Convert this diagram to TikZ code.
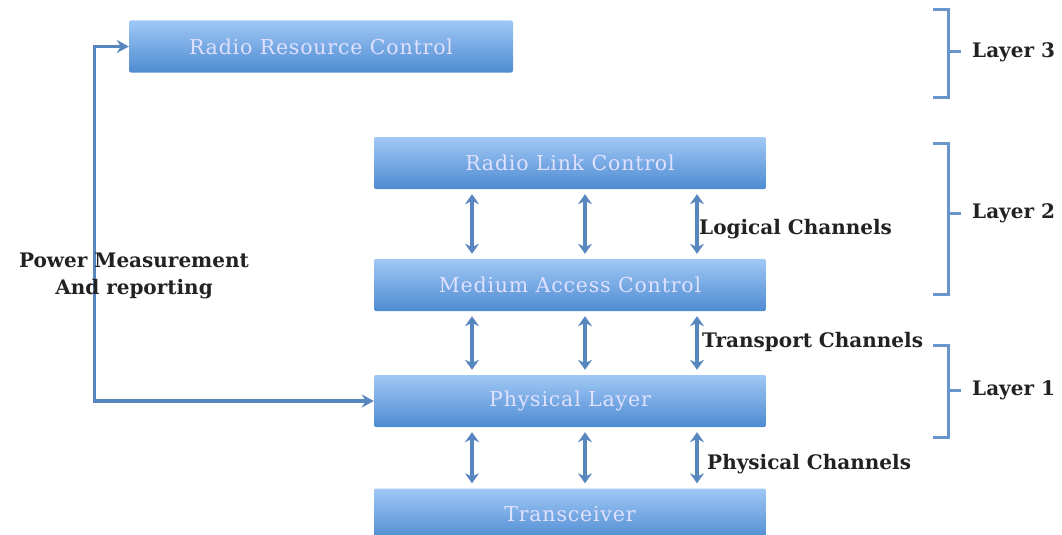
\documentclass[tikz,border=0pt]{standalone}
\usepackage{fontspec}
\setmainfont{DejaVu Serif}
\usetikzlibrary{arrows.meta}

\newlength{\du}
\setlength{\du}{1pt}

\definecolor{boxtop}{RGB}{160,200,245}
\definecolor{boxbottom}{RGB}{78,139,210}
\definecolor{linkcolor}{RGB}{88,134,190}
\definecolor{bracecolor}{RGB}{105,150,202}
\definecolor{labelcolor}{RGB}{34,34,34}

\tikzset{
  layerbox/.style={rectangle, rounded corners=2\du, minimum width=392\du,
    minimum height=52\du, top color=boxtop, bottom color=boxbottom,
    text=white!88!blue,
    font=\fontsize{20.5}{24}\selectfont\addfontfeatures{LetterSpace=4}},
  channel/.style={draw=linkcolor, line width=3.4\du,
    {Stealth[length=10pt,width=14pt]}-{Stealth[length=10pt,width=14pt]},
    shorten <=5\du, shorten >=5\du},
  feedback/.style={draw=linkcolor, line width=3.2\du,
    {Stealth[length=12pt,width=13pt]}-{Stealth[length=12pt,width=13pt]}},
  layerbrace/.style={draw=bracecolor, line width=3\du},
  chlabel/.style={anchor=west, inner sep=0pt, text=labelcolor,
    font=\bfseries\fontsize{20}{27}\selectfont},
}

\begin{document}
\begin{tikzpicture}[x=1pt,y=-1pt]
\clip (0,0) rectangle (1062,535);
\fill[white] (0,0) rectangle (1062,535);

% protocol stack
\node[layerbox, minimum width=384\du] (rrc) at (321,46.5) {Radio Resource Control};
\node[layerbox] (rlc) at (570,163) {Radio Link Control};
\node[layerbox] (mac) at (570,285) {Medium Access Control};
\node[layerbox] (phy) at (570,401) {Physical Layer};
\node[layerbox] (trx) at (570,514.5) {Transceiver};

% channels between the layers
\foreach \dx in {-98,15,127}{
  \draw[channel] ([xshift=\dx pt]rlc.south) -- ([xshift=\dx pt]mac.north);
  \draw[channel] ([xshift=\dx pt]mac.south) -- ([xshift=\dx pt]phy.north);
  \draw[channel] ([xshift=\dx pt]phy.south) -- ([xshift=\dx pt]trx.north);
}
\node[chlabel] (logical) at (699,229) {Logical Channels};
\node[chlabel] (transport) at (702,342) {Transport Channels};
\node[chlabel] (physical) at (707,464) {Physical Channels};

% measurement loop
\draw[feedback] (rrc.west) -- ++(-34,0) |- (phy.west);
\node[chlabel, anchor=center, align=center] (power) at (134,276)
  {Power Measurement\\And reporting};

% layer braces
\draw[layerbrace] (933,10) -- (948,10) -- (948,97) -- (933,97);
\draw[layerbrace] (948,52) -- (961,52);
\draw[layerbrace] (933,143) -- (948,143) -- (948,294) -- (933,294);
\draw[layerbrace] (948,213) -- (961,213);
\draw[layerbrace] (933,345) -- (948,345) -- (948,437) -- (933,437);
\draw[layerbrace] (948,390) -- (961,390);
\node[chlabel] (layer3) at (972,52) {Layer 3};
\node[chlabel] (layer2) at (972,213) {Layer 2};
\node[chlabel] (layer1) at (972,390) {Layer 1};
\end{tikzpicture}
\end{document}
